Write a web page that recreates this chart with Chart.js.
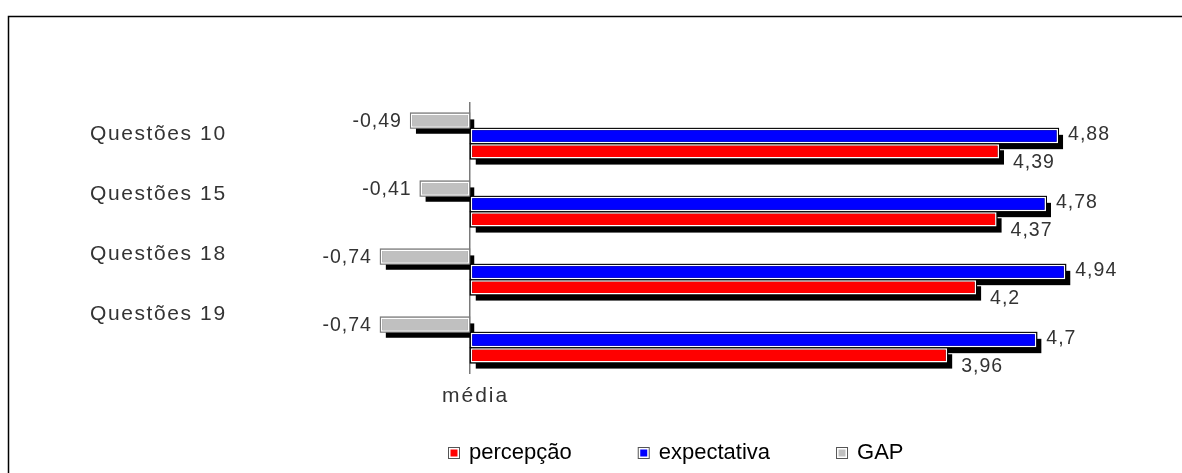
<!DOCTYPE html>
<html>
<head>
<meta charset="utf-8">
<script src="https://cdn.jsdelivr.net/npm/chart.js@4.4.1/dist/chart.umd.min.js"></script>
<style>
  html, body { margin: 0; padding: 0; background: #fff; overflow: hidden; }
  #wrap { position: relative; width: 1182px; height: 473px; }
</style>
</head>
<body>
<div id="wrap"><canvas id="c" width="1182" height="473"></canvas></div>
<script>
// Survey averages per question group
const categories  = ['Questões 10', 'Questões 15', 'Questões 18', 'Questões 19'];
const percepcao   = [4.39, 4.37, 4.2, 3.96];
const expectativa = [4.88, 4.78, 4.94, 4.7];
const gapValues   = [-0.49, -0.41, -0.74, -0.74];
const seriesNames = ['percepção', 'expectativa', 'GAP'];
const axisTitle   = 'média';

const LABEL_FONT = '"Liberation Sans", Arial, sans-serif';
const fmt = v => String(v).replace('.', ',');

// Outer frame of the chart box
const framePlugin = {
  id: 'frame',
  beforeDraw(chart) {
    const ctx = chart.ctx;
    ctx.save();
    ctx.fillStyle = '#fff';
    ctx.fillRect(0, 0, chart.width, chart.height);
    ctx.strokeStyle = '#000';
    ctx.lineWidth = 1.5;
    ctx.beginPath();
    ctx.moveTo(8.5, chart.height + 2);
    ctx.lineTo(8.5, 16.5);
    ctx.lineTo(chart.width + 2, 16.5);
    ctx.stroke();
    ctx.restore();
  }
};

// Drop shadows and thin outlines behind each bar, value labels beside them
const barDecor = {
  id: 'barDecor',
  beforeDatasetsDraw(chart) {
    const ctx = chart.ctx;
    const rects = [];
    chart.data.datasets.forEach((ds, di) => {
      const meta = chart.getDatasetMeta(di);
      meta.data.forEach(el => {
        const p = el.getProps(['x', 'y', 'base', 'height'], true);
        const left = Math.min(p.x, p.base), right = Math.max(p.x, p.base);
        rects.push({ left, top: p.y - p.height / 2, w: right - left, h: p.height, outline: ds.outlineColor });
      });
    });
    ctx.save();
    ctx.fillStyle = '#000';
    rects.forEach(r => ctx.fillRect(r.left + 5, r.top + 6, r.w, r.h));
    rects.forEach(r => {
      ctx.fillStyle = r.outline;
      ctx.fillRect(r.left - 1, r.top - 1, r.w + 2, r.h + 2);
    });
    ctx.restore();
  },
  afterDatasetsDraw(chart) {
    const ctx = chart.ctx;
    ctx.save();
    ctx.letterSpacing = '1px';
    ctx.font = '19.5px ' + LABEL_FONT;
    ctx.fillStyle = '#333';
    ctx.textBaseline = 'middle';
    chart.data.datasets.forEach((ds, di) => {
      const meta = chart.getDatasetMeta(di);
      meta.data.forEach((el, i) => {
        const p = el.getProps(['x', 'y', 'base'], true);
        const txt = fmt(ds.data[i]);
        if (di === 0) {
          ctx.textAlign = 'right';
          ctx.fillText(txt, p.x - 9, p.y + 1);
        } else if (di === 1) {
          ctx.textAlign = 'left';
          ctx.fillText(txt, p.x + 10, p.y - 1);
        } else {
          ctx.textAlign = 'left';
          ctx.fillText(txt, p.x + 14, p.y + 11);
        }
      });
    });
    ctx.restore();
  }
};

// Category names, axis title under the zero line, and the legend row
const extras = {
  id: 'extras',
  afterDraw(chart) {
    const ctx = chart.ctx;
    const xs = chart.scales.x;
    const area = chart.chartArea;
    ctx.save();
    ctx.font = '21px ' + LABEL_FONT;
    ctx.fillStyle = '#333';
    ctx.textBaseline = 'middle';
    ctx.textAlign = 'left';

    ctx.letterSpacing = '1.6px';
    const step = (area.bottom - area.top) / 4.53;
    chart.data.labels.forEach((lab, i) => {
      ctx.fillText(lab, 90, area.top + 32 + i * step);
    });

    ctx.letterSpacing = '2px';
    ctx.fillText(axisTitle, xs.getPixelForValue(0) - 28, 396);

    ctx.letterSpacing = '0px';
    ctx.font = '22px ' + LABEL_FONT;
    let x = 448;
    const yBox = 447;
    [2, 1, 0].forEach(di => {
      const ds = chart.data.datasets[di];
      ctx.fillStyle = '#555';
      ctx.fillRect(x, yBox, 12, 12);
      ctx.fillStyle = '#fff';
      ctx.fillRect(x + 1, yBox + 1, 10, 10);
      ctx.fillStyle = ds.backgroundColor;
      ctx.fillRect(x + 2.5, yBox + 2.5, 7, 7);
      ctx.fillStyle = '#000';
      ctx.fillText(ds.label, x + 21, 453);
      x += 21 + ctx.measureText(ds.label).width + 66;
    });
    ctx.restore();
  }
};

new Chart(document.getElementById('c'), {
  type: 'bar',
  data: {
    labels: categories,
    datasets: [
      { label: seriesNames[2], data: gapValues,   backgroundColor: '#C0C0C0', outlineColor: '#7a7a7a' },
      { label: seriesNames[1], data: expectativa, backgroundColor: '#0000FF', outlineColor: '#000' },
      { label: seriesNames[0], data: percepcao,   backgroundColor: '#FF0000', outlineColor: '#000' }
    ]
  },
  options: {
    indexAxis: 'y',
    responsive: false,
    devicePixelRatio: 1,
    animation: false,
    layout: { padding: { left: 349.5, right: 49.25, top: 102, bottom: 99 } },
    datasets: {
      bar: {
        categoryPercentage: 0.68,
        barPercentage: 0.93,
        borderColor: '#fff',
        borderWidth: 1.5,
        borderSkipped: false
      }
    },
    scales: {
      x: {
        type: 'linear',
        min: -1,
        max: 5.5,
        ticks: { display: false, stepSize: 1 },
        border: { display: false },
        grid: {
          drawTicks: false,
          lineWidth: 1.5,
          color: c => (c.tick && c.tick.value === 0 ? '#7a7a7a' : 'rgba(0,0,0,0)')
        },
        afterFit: s => { s.height = 0; }
      },
      y: {
        type: 'category',
        display: false
      }
    },
    plugins: {
      legend: { display: false },
      tooltip: { enabled: false }
    }
  },
  plugins: [framePlugin, barDecor, extras]
});
</script>
</body>
</html>
